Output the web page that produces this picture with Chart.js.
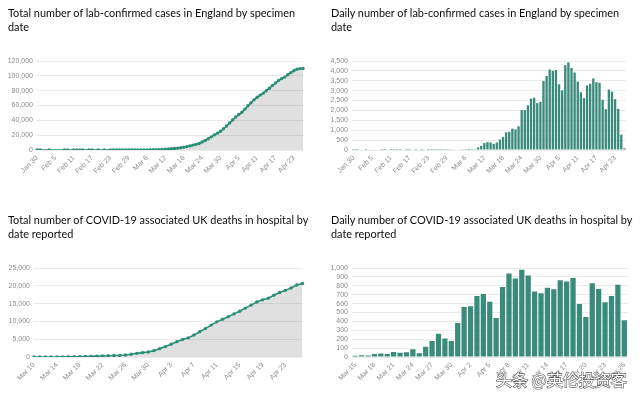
<!DOCTYPE html>
<html><head><meta charset="utf-8">
<script src="https://cdn.jsdelivr.net/npm/chart.js@4.4.1/dist/chart.umd.min.js"></script>
<style>
html,body{margin:0;padding:0;background:#fff;width:640px;height:400px;overflow:hidden;}
.title{position:absolute;z-index:2;font-family:Lato,"Noto Sans",sans-serif;font-size:10.9px;line-height:14.3px;color:#0b0c0c;white-space:nowrap;}
canvas{position:absolute;z-index:1;}
.wm{position:absolute;z-index:3;left:496px;top:367px;font-family:"Noto Sans CJK SC",sans-serif;font-size:16px;color:#fff;white-space:nowrap;
 -webkit-text-stroke:1.2px #555;paint-order:stroke fill;}
</style></head>
<body>
<div class="title" id="t1" style="left:8px;top:6px">Total number of lab-confirmed cases in England by specimen<br>date</div>
<div class="title" id="t2" style="left:331px;top:6px">Daily number of lab-confirmed cases in England by specimen<br>date</div>
<div class="title" id="t3" style="left:8px;top:213px">Total number of COVID-19 associated UK deaths in hospital by<br>date reported</div>
<div class="title" id="t4" style="left:331px;top:213px">Daily number of COVID-19 associated UK deaths in hospital by<br>date reported</div>
<canvas id="c1" width="320" height="200" style="left:0;top:0"></canvas>
<canvas id="c2" width="320" height="200" style="left:320px;top:0"></canvas>
<canvas id="c3" width="320" height="200" style="left:0;top:200px"></canvas>
<canvas id="c4" width="320" height="200" style="left:320px;top:200px"></canvas>
<div class="wm">头条 @英伦投资客</div>
<script>
// ---- categories ----
const caseDates = ["Jan 30","Jan 31",
"Feb 1","Feb 2","Feb 3","Feb 4","Feb 5","Feb 6","Feb 7","Feb 8","Feb 9","Feb 10","Feb 11","Feb 12","Feb 13","Feb 14","Feb 15","Feb 16","Feb 17","Feb 18","Feb 19","Feb 20","Feb 21","Feb 22","Feb 23","Feb 24","Feb 25","Feb 26","Feb 27","Feb 28","Feb 29",
"Mar 1","Mar 2","Mar 3","Mar 4","Mar 5","Mar 6","Mar 7","Mar 8","Mar 9","Mar 10","Mar 11","Mar 12","Mar 13","Mar 14","Mar 15","Mar 16","Mar 17","Mar 18","Mar 19","Mar 20","Mar 21","Mar 22","Mar 23","Mar 24","Mar 25","Mar 26","Mar 27","Mar 28","Mar 29","Mar 30","Mar 31",
"Apr 1","Apr 2","Apr 3","Apr 4","Apr 5","Apr 6","Apr 7","Apr 8","Apr 9","Apr 10","Apr 11","Apr 12","Apr 13","Apr 14","Apr 15","Apr 16","Apr 17","Apr 18","Apr 19","Apr 20","Apr 21","Apr 22","Apr 23","Apr 24","Apr 25","Apr 26"];
const deathTotalDates = ["Mar 10","Mar 11","Mar 12","Mar 13","Mar 14","Mar 15","Mar 16","Mar 17","Mar 18","Mar 19","Mar 20","Mar 21","Mar 22","Mar 23","Mar 24","Mar 25","Mar 26","Mar 27","Mar 28","Mar 29","Mar 30","Mar 31",
"Apr 1","Apr 2","Apr 3","Apr 4","Apr 5","Apr 6","Apr 7","Apr 8","Apr 9","Apr 10","Apr 11","Apr 12","Apr 13","Apr 14","Apr 15","Apr 16","Apr 17","Apr 18","Apr 19","Apr 20","Apr 21","Apr 22","Apr 23","Apr 24","Apr 25","Apr 26"];
const deathDailyDates = ["Mar 15","Mar 16","Mar 17","Mar 18","Mar 19","Mar 20","Mar 21","Mar 22","Mar 23","Mar 24","Mar 25","Mar 26","Mar 27","Mar 28","Mar 29","Mar 30","Mar 31",
"Apr 1","Apr 2","Apr 3","Apr 4","Apr 5","Apr 6","Apr 7","Apr 8","Apr 9","Apr 10","Apr 11","Apr 12","Apr 13","Apr 14","Apr 15","Apr 16","Apr 17","Apr 18","Apr 19","Apr 20","Apr 21","Apr 22","Apr 23","Apr 24","Apr 25","Apr 26"];

// ---- series values ----
const totalCases = [2,3,null,null,4,null,null,null,null,5, 6,null,7,8,9,10,null,11,12,null, 13,null,14,null,15,17,20,24,29,37,
 47,59,77,102,132,167,207,262,307,352, 482,692,1042,1442,1822,2132,2512,3042,3702,4602,
 5522,6602,7642,8842,10862,12882,15142,17742,20382,22752, 25182,28672,32412,36482,40482,44522,47842,50852,55142,59572,
 63722,67642,71102,74022,76642,79902,83252,86872,90302,93702, 96242,98302,101362,104312,106882,108962,109742,109822];
const dailyCases = [2,1,0,0,1,0,0,0,0,1, 1,0,1,1,1,1,0,1,1,0, 1,0,1,0,1,2,3,4,5,8,
 10,12,18,25,30,35,40,55,45,45, 130,210,350,400,380,310,380,530,660,900,
 920,1080,1040,1200,2020,2020,2260,2600,2640,2370, 2430,3490,3740,4070,4000,4040,3320,3010,4290,4430,
 4150,3920,3460,2920,2620,3260,3350,3620,3430,3400, 2540,2060,3060,2950,2570,2080,780,80];
const totalDeaths = [6,8,8,10,21,35,55,71,104,144,177,233,281,335,422,465,578,759,1019,1228,1408,1789,
 2352,2921,3605,4313,4934,5373,6159,7097,7978,8958,9875,10612,11329,12107,12868,13729,14576,15464,16060,16509,17337,18100,18716,19400,20213,20626];
const dailyDeaths = [14,20,16,33,40,33,56,48,54,87,43,115,181,260,209,180,381,
 563,569,684,708,621,439,786,938,881,980,917,737,717,778,761,861,847,888,596,449,828,763,616,684,813,413];

// ---- y-axis ticks ----
const totalCasesTicks = [0,20000,40000,60000,80000,100000,120000];
const dailyCasesTicks = [0,500,1000,1500,2000,2500,3000,3500,4000,4500];
const totalDeathsTicks = [0,5000,10000,15000,20000,25000];
const dailyDeathsTicks = [0,100,200,300,400,500,600,700,800,900,1000];

const TEAL_LINE = '#2a8f78';
const TEAL_BAR = '#3a8b7b';
const TICK_COLOR = '#8c8c8c';
const GRID_COLOR = '#ebebeb';
const TICK_FONT = {family:'"Liberation Sans", Arial, sans-serif', size:7};

function build(id, type, labels, data, yTicks, every, box) {
  const ds = type === 'line'
    ? {data, borderColor:TEAL_LINE, backgroundColor:'rgba(0,0,0,0.12)', fill:'origin', borderWidth:1.6,
       pointRadius:1.7, pointBackgroundColor:TEAL_LINE, pointBorderWidth:0, spanGaps:true, tension:0}
    : {data, backgroundColor:TEAL_BAR, borderWidth:0, barPercentage:box.bar, categoryPercentage:1};
  new Chart(document.getElementById(id), {
    type,
    data:{labels, datasets:[ds]},
    options:{
      responsive:false, animation:false, devicePixelRatio:1,
      plugins:{legend:{display:false}, tooltip:{enabled:false}},
      layout:{padding:{left:0, right:box.right, top:box.top, bottom:0}},
      scales:{
        x:{offset: type==='bar', grid:{display:false, drawTicks:false}, border:{display:false},
           ticks:{autoSkip:false, minRotation:45, maxRotation:45, padding:4, color:TICK_COLOR, font:TICK_FONT,
             callback:(v,i)=> i % every === 0 ? labels[i] : null},
           afterFit:s=>{s.height = box.xh;}},
        y:{min:0, max:yTicks[yTicks.length-1], afterBuildTicks:s=>{s.ticks = yTicks.map(v=>({value:v}));},
           grid:{color:GRID_COLOR, drawTicks:false, lineWidth:1}, border:{display:false},
           ticks:{autoSkip:false, padding:4, color:TICK_COLOR, font:TICK_FONT, callback:v=>v.toLocaleString('en-US')},
           afterFit:s=>{s.width = box.yw;}}
      }
    }
  });
}

build('c1','line',caseDates,totalCases,totalCasesTicks,6,{right:17, top:61, xh:50, yw:37});
build('c2','bar',caseDates,dailyCases,dailyCasesTicks,6,{right:14, top:61, xh:50, yw:32, bar:0.75});
build('c3','line',deathTotalDates,totalDeaths,totalDeathsTicks,4,{right:17.5, top:68, xh:43, yw:34});
build('c4','bar',deathDailyDates,dailyDeaths,dailyDeathsTicks,3,{right:12.5, top:68, xh:43, yw:32, bar:0.82});
</script>
</body></html>
